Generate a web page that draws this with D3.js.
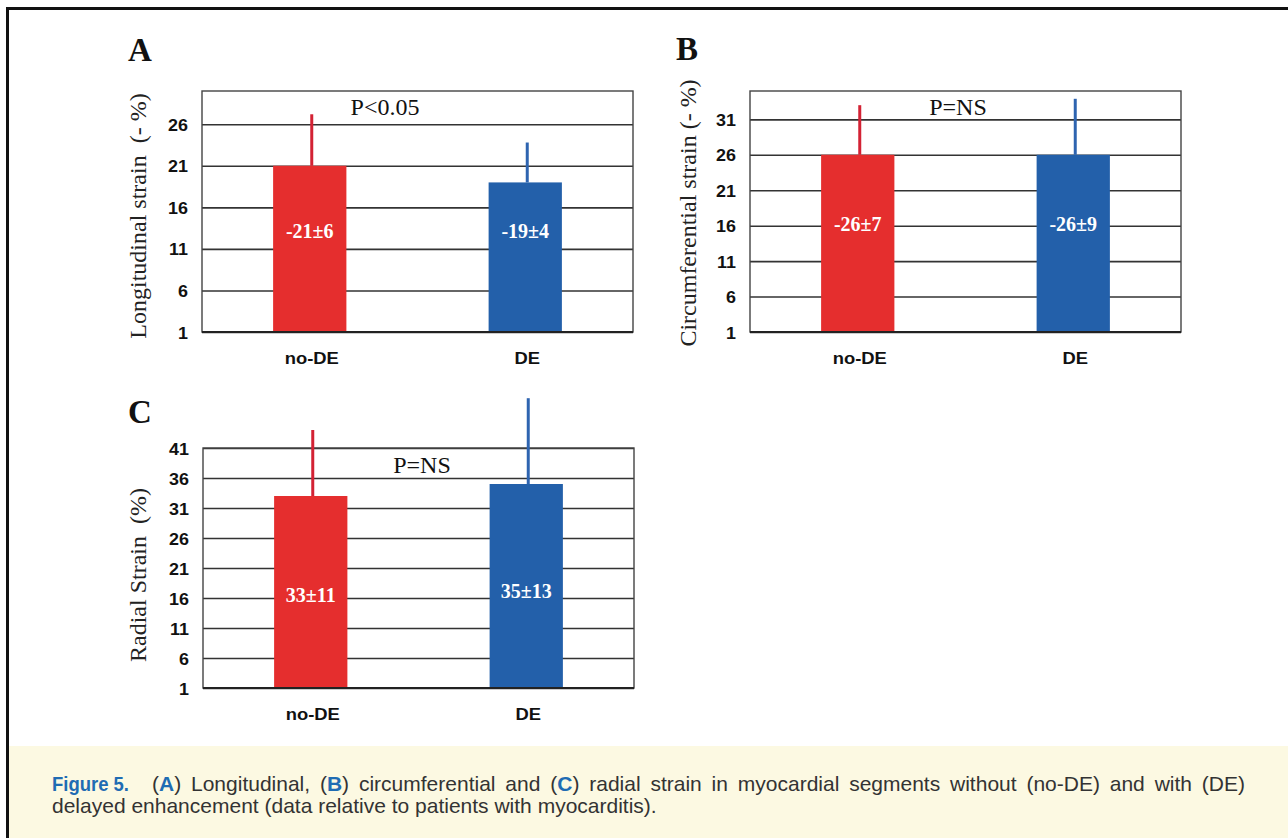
<!DOCTYPE html>
<html>
<head>
<meta charset="utf-8">
<script src="https://cdn.jsdelivr.net/npm/d3@7"></script>
<style>
  body { margin: 0; background: #fff; }
  svg text { white-space: pre; }
</style>
</head>
<body>
<svg id="chart" width="1288" height="838"></svg>
<script>
// ----------------- DATA -----------------
var categories = ['no-DE', 'DE'];

var longitudinalMean = [21, 19];
var longitudinalErr = [6.2, 4.8];
var longitudinalText = ['-21±6', '-19±4'];
var longitudinalTicks = [1, 6, 11, 16, 21, 26];

var circumferentialMean = [26, 26];
var circumferentialErr = [7, 7.9];
var circumferentialText = ['-26±7', '-26±9'];
var circumferentialTicks = [1, 6, 11, 16, 21, 26, 31];

var radialMean = [33, 35];
var radialErr = [11, 14.3];
var radialText = ['33±11', '35±13'];
var radialTicks = [1, 6, 11, 16, 21, 26, 31, 36, 41];

var panelLetters = ['A', 'B', 'C'];
var pTexts = ['P<0.05', 'P=NS', 'P=NS'];
var yTitles = ['Longitudinal strain  (- %)', 'Circumferential strain (- %)', 'Radial Strain  (%)'];

var barColors = ['#e52e2e', '#2360aa'];
var errColors = ['#d32234', '#2e64b0'];

// ----------------- LAYOUT -----------------
var panels = [
    {mean: longitudinalMean, err: longitudinalErr, text: longitudinalText, ticks: longitudinalTicks,
     domain: [1, 30], left: 202, right: 633, top: 91, bottom: 332,
     letterX: 128, letterY: 61, yTitleX: 146, yTitleY: 216, pX: 385, pY: 115, labelY: [238, 238]},
    {mean: circumferentialMean, err: circumferentialErr, text: circumferentialText, ticks: circumferentialTicks,
     domain: [1, 35], left: 750, right: 1181, top: 91, bottom: 332,
     letterX: 676, letterY: 60, yTitleX: 696, yTitleY: 213, pX: 958, pY: 115, labelY: [231, 231]},
    {mean: radialMean, err: radialErr, text: radialText, ticks: radialTicks,
     domain: [1, 41], left: 203, right: 634, top: 448, bottom: 688,
     letterX: 128, letterY: 423, yTitleX: 146, yTitleY: 575, pX: 422, pY: 473, labelY: [602, 598]}
];

var svg = d3.select('#chart');
var serif = '"Liberation Serif", "Times New Roman", serif';
var sans = '"Liberation Sans", Arial, sans-serif';

// outer frame (top + left rule)
svg.append('rect').attr('x', 6).attr('y', 7).attr('width', 1282).attr('height', 3).attr('fill', '#111');
svg.append('rect').attr('x', 6).attr('y', 7).attr('width', 3).attr('height', 831).attr('fill', '#111');

function drawPanel(p, i) {
    var g = svg.append('g');

    var x = d3.scaleBand()
        .domain(categories)
        .range([p.left, p.right])
        .paddingInner(0.66)
        .paddingOuter(0.33);
    var y = d3.scaleLinear()
        .domain(p.domain)
        .range([p.bottom, p.top]);

    // gridlines
    var grid = g.append('g')
        .attr('transform', 'translate(' + p.left + ',0)')
        .call(d3.axisLeft(y).tickValues(p.ticks).tickSize(-(p.right - p.left)).tickFormat(''));
    grid.select('.domain').remove();
    grid.selectAll('line').attr('stroke', '#333').attr('stroke-width', 1.6);

    // plot frame
    g.append('rect')
        .attr('x', p.left).attr('y', p.top)
        .attr('width', p.right - p.left).attr('height', p.bottom - p.top)
        .attr('fill', 'none').attr('stroke', '#444').attr('stroke-width', 1.4);

    // error bars (upper only)
    g.selectAll('.err').data(categories).enter().append('line')
        .attr('x1', function(d) { return x(d) + x.bandwidth() / 2 + 2; })
        .attr('x2', function(d) { return x(d) + x.bandwidth() / 2 + 2; })
        .attr('y1', function(d, j) { return y(p.mean[j]); })
        .attr('y2', function(d, j) { return y(p.mean[j] + p.err[j]); })
        .attr('stroke', function(d, j) { return errColors[j]; })
        .attr('stroke-width', 3);

    // bars
    g.selectAll('.bar').data(categories).enter().append('rect')
        .attr('x', function(d) { return x(d); })
        .attr('width', x.bandwidth())
        .attr('y', function(d, j) { return y(p.mean[j]); })
        .attr('height', function(d, j) { return y(p.domain[0]) - y(p.mean[j]); })
        .attr('fill', function(d, j) { return barColors[j]; });

    // baseline
    g.append('line')
        .attr('x1', p.left).attr('x2', p.right)
        .attr('y1', y(p.domain[0])).attr('y2', y(p.domain[0]))
        .attr('stroke', '#222').attr('stroke-width', 2);

    // value labels in bars
    g.selectAll('.val').data(categories).enter().append('text')
        .attr('x', function(d) { return x(d) + x.bandwidth() / 2; })
        .attr('y', function(d, j) { return p.labelY[j]; })
        .attr('text-anchor', 'middle')
        .attr('fill', '#fff')
        .style('font', 'bold 20px ' + serif)
        .text(function(d, j) { return p.text[j]; });

    // y tick labels
    var yAxis = g.append('g')
        .attr('transform', 'translate(' + p.left + ',0)')
        .attr('font-family', sans).attr('font-size', 16).attr('font-weight', 'bold')
        .call(d3.axisLeft(y).tickValues(p.ticks).tickSize(0).tickFormat(d3.format('d')));
    yAxis.attr('font-family', sans).attr('font-size', 16).attr('font-weight', 'bold');
    yAxis.select('.domain').remove();
    yAxis.selectAll('text')
        .attr('x', -14 / 1.12)
        .attr('dy', '0.38em')
        .attr('transform', 'scale(1.12,1)')
        .attr('fill', '#111');

    // category labels
    var xAxis = g.append('g')
        .attr('transform', 'translate(0,' + p.bottom + ')')
        .call(d3.axisBottom(x).tickSize(0));
    xAxis.attr('font-family', sans).attr('font-size', 16).attr('font-weight', 'bold');
    xAxis.select('.domain').remove();
    xAxis.selectAll('text')
        .attr('y', 32).attr('dy', 0)
        .attr('transform', 'scale(1.15,1)')
        .attr('fill', '#111');
    xAxis.selectAll('.tick').attr('transform', function(d) {
        return 'translate(' + (x(d) + x.bandwidth() / 2 + 2) + ',0)';
    });

    // p value
    g.append('text')
        .attr('x', p.pX).attr('y', p.pY)
        .attr('text-anchor', 'middle')
        .attr('fill', '#111')
        .style('font', '24px ' + serif)
        .text(pTexts[i]);

    // panel letter
    g.append('text')
        .attr('x', p.letterX).attr('y', p.letterY)
        .attr('fill', '#111')
        .style('font', 'bold 33px ' + serif)
        .text(panelLetters[i]);

    // y title
    g.append('text')
        .attr('transform', 'translate(' + p.yTitleX + ',' + p.yTitleY + ') rotate(-90)')
        .attr('text-anchor', 'middle')
        .attr('fill', '#222')
        .style('font', '24px ' + serif)
        .text(yTitles[i]);
}

panels.forEach(drawPanel);

// ----------------- CAPTION -----------------
svg.append('rect').attr('x', 9).attr('y', 746).attr('width', 1279).attr('height', 92).attr('fill', '#fcf9e2');

var blue = '#1f6cb3';
svg.append('text')
    .attr('x', 52).attr('y', 791)
    .attr('fill', blue)
    .attr('textLength', 77)
    .attr('lengthAdjust', 'spacingAndGlyphs')
    .style('font', 'bold 21px ' + sans)
    .text('Figure 5.');

var line1 = svg.append('text')
    .attr('x', 152).attr('y', 791)
    .attr('fill', '#333')
    .style('font', '21px ' + sans);
var parts = [['(', 0], ['A', 1], [') Longitudinal, (', 0], ['B', 1], [') circumferential and (', 0], ['C', 1],
    [') radial strain in myocardial segments without (no-DE) and with (DE)', 0]];
parts.forEach(function(d) {
    line1.append('tspan')
        .attr('fill', d[1] ? blue : null)
        .style('font-weight', d[1] ? 'bold' : null)
        .text(d[0]);
});
// justify first line to the right margin
var natural = line1.node().getComputedTextLength();
var spaces = parts.map(function(d) { return d[0]; }).join('').split(' ').length - 1;
line1.style('word-spacing', ((1245 - 152 - natural) / spaces) + 'px');

svg.append('text')
    .attr('x', 52).attr('y', 813)
    .attr('fill', '#333')
    .style('font', '21px ' + sans)
    .text('delayed enhancement (data relative to patients with myocarditis).');
</script>
</body>
</html>
